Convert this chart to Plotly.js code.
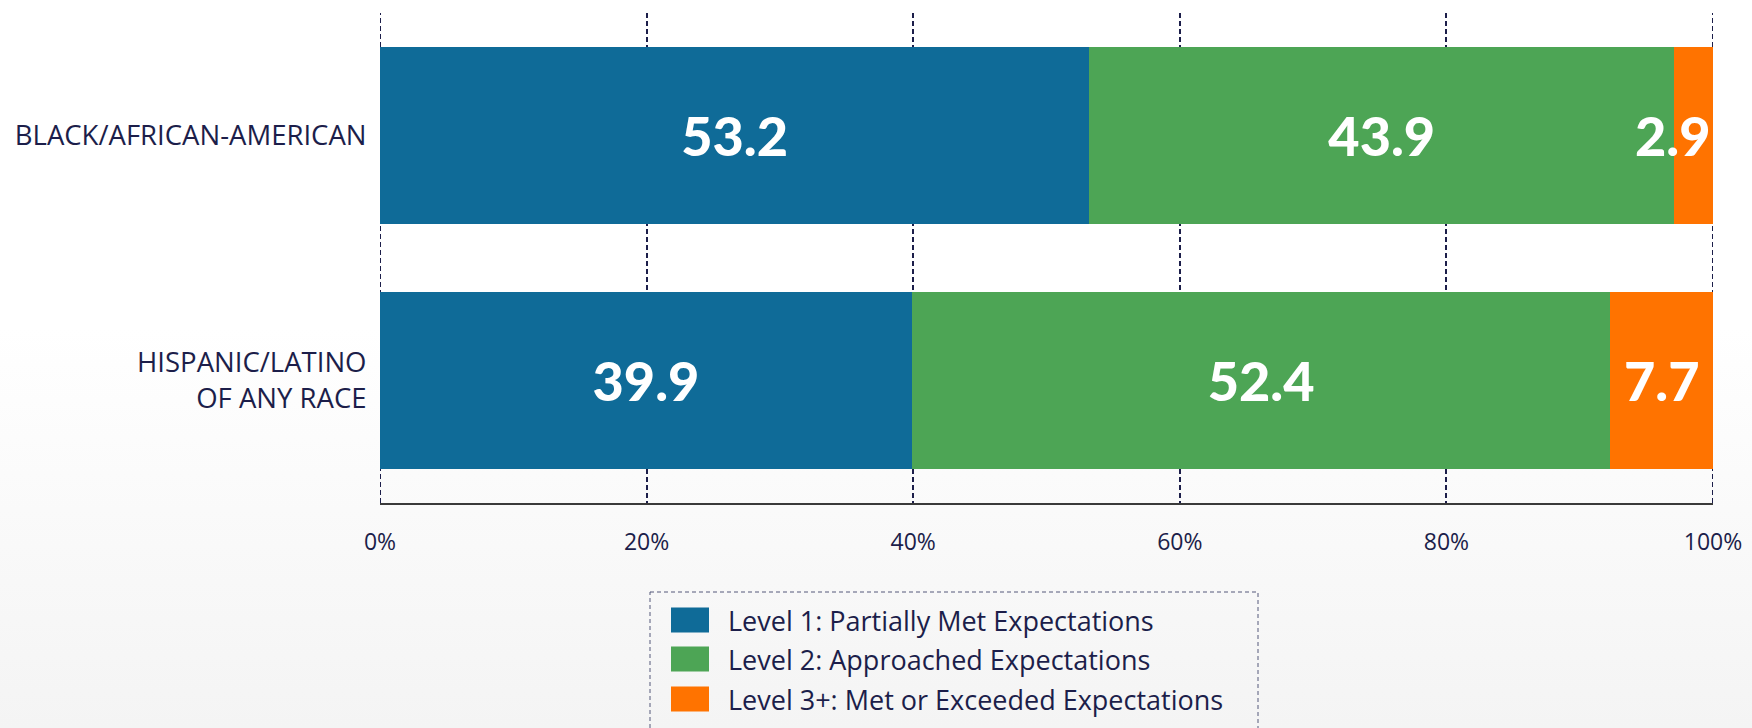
<!DOCTYPE html>
<html>
<head>
<meta charset="utf-8">
<script src="https://cdn.plot.ly/plotly-3.0.1.min.js"></script>
<style>html,body{margin:0;padding:0;background:#fff;}#chart{width:1752px;height:728px;}</style>
</head>
<body>
<div id="chart"></div>
<script>
const categories = ["BLACK/AFRICAN-AMERICAN", "HISPANIC/LATINO<br>OF ANY RACE"];
const seriesNames = ["Level 1: Partially Met Expectations", "Level 2: Approached Expectations", "Level 3+: Met or Exceeded Expectations"];
const level1 = [53.2, 39.9];
const level2 = [43.9, 52.4];
const level3 = [2.9, 7.7];
const xTickVals = [0, 20, 40, 60, 80, 100];
const xTickText = ["0%", "20%", "40%", "60%", "80%", "100%"];
const colors = ["#0f6b98", "#4da555", "#ff7300"];

const W = 1752, H = 728;
const M = {l: 380, r: 39, t: 13, b: 225};
const PW = W - M.l - M.r, PH = H - M.t - M.b;
const px2x = p => (p - M.l) / PW;
const px2y = p => (H - M.b - p) / PH;

const TXT = "#1c1e4a";
const labelFont = {family: "Lato, 'Open Sans', sans-serif", size: 54, color: "#ffffff", weight: 900};

const series = [level1, level2, level3];
const traces = series.map((vals, i) => ({
  type: "bar",
  orientation: "h",
  name: seriesNames[i],
  y: categories,
  x: vals,
  marker: {color: colors[i], line: {width: 0}},
  text: i < 2 ? vals.map(v => v.toFixed(1)) : undefined,
  textposition: i < 2 ? "inside" : "none",
  insidetextanchor: "middle",
  constraintext: "none",
  textfont: labelFont,
  hoverinfo: "x+name",
  showlegend: false
}));

// Labels for the last segment (may be narrower than its label)
const annotations = [];
categories.forEach((c, k) => {
  const end = level1[k] + level2[k] + level3[k];
  const narrow = level3[k] < 5;
  annotations.push({
    x: narrow ? end : end - level3[k] / 2,
    y: c, xref: "x", yref: "y",
    xanchor: narrow ? "right" : "center",
    yanchor: "middle",
    text: level3[k].toFixed(1),
    showarrow: false,
    font: labelFont
  });
});

const shapes = [];
// gridlines at the range ends (Plotly omits them at the edges)
[xTickVals[0], xTickVals[xTickVals.length - 1]].forEach(v => {
  shapes.push({
    type: "line", xref: "x", yref: "paper", x0: v, x1: v, y0: 0, y1: 1,
    line: {color: TXT, width: 2, dash: "5px,3px"}, layer: "below"
  });
});

// Custom legend
shapes.push({
  type: "rect", xref: "paper", yref: "paper",
  x0: px2x(650), x1: px2x(1258), y0: px2y(592), y1: px2y(745),
  line: {color: "#55597a", width: 1, dash: "4px,3px"}, fillcolor: "rgba(0,0,0,0)", layer: "below"
});
const rowY = [620, 659, 699];
seriesNames.forEach((n, i) => {
  shapes.push({
    type: "rect", xref: "paper", yref: "paper",
    x0: px2x(671), x1: px2x(709), y0: px2y(rowY[i] + 12.5), y1: px2y(rowY[i] - 12.5),
    line: {width: 0}, fillcolor: colors[i]
  });
  annotations.push({
    xref: "paper", yref: "paper", x: px2x(726), y: px2y(rowY[i]),
    xanchor: "left", yanchor: "middle", showarrow: false,
    text: n, font: {family: "'Open Sans', sans-serif", size: 27, color: TXT}
  });
});

const grad = "data:image/svg+xml;utf8," + encodeURIComponent(
  '<svg xmlns="http://www.w3.org/2000/svg" width="100" height="100" preserveAspectRatio="none">' +
  '<defs><linearGradient id="g" x1="0" y1="0" x2="0" y2="1">' +
  '<stop offset="0" stop-color="#ffffff"/><stop offset="0.45" stop-color="#ffffff"/><stop offset="1" stop-color="#f4f4f4"/>' +
  '</linearGradient></defs><rect width="100" height="100" fill="url(#g)"/></svg>');

const layout = {
  width: W, height: H,
  margin: M,
  barmode: "stack",
  bargap: 0.278,
  paper_bgcolor: "#ffffff",
  plot_bgcolor: "rgba(0,0,0,0)",
  showlegend: false,
  images: [{
    source: grad, xref: "paper", yref: "paper",
    x: px2x(0), y: px2y(0), sizex: W / PW, sizey: H / PH,
    xanchor: "left", yanchor: "top", sizing: "stretch", layer: "below"
  }],
  xaxis: {
    range: [0, 100],
    tickvals: xTickVals, ticktext: xTickText,
    showgrid: true, gridcolor: TXT, gridwidth: 2, griddash: "5px,3px",
    zeroline: false,
    showline: true, linecolor: "#3a3a3a", linewidth: 2,
    ticks: "outside", ticklen: 17, tickcolor: "rgba(0,0,0,0)",
    tickfont: {family: "'Open Sans', sans-serif", size: 23, color: TXT},
    fixedrange: true
  },
  yaxis: {
    type: "category",
    categoryorder: "array", categoryarray: categories,
    range: [1.5, -0.5],
    showgrid: false, zeroline: false, showline: false,
    ticks: "outside", ticklen: 7, tickcolor: "rgba(0,0,0,0)",
    tickfont: {family: "'Open Sans', sans-serif", size: 27.5, color: TXT},
    fixedrange: true
  },
  shapes: shapes,
  annotations: annotations
};

Plotly.newPlot("chart", traces, layout, {displayModeBar: false, staticPlot: true});
</script>
</body>
</html>
